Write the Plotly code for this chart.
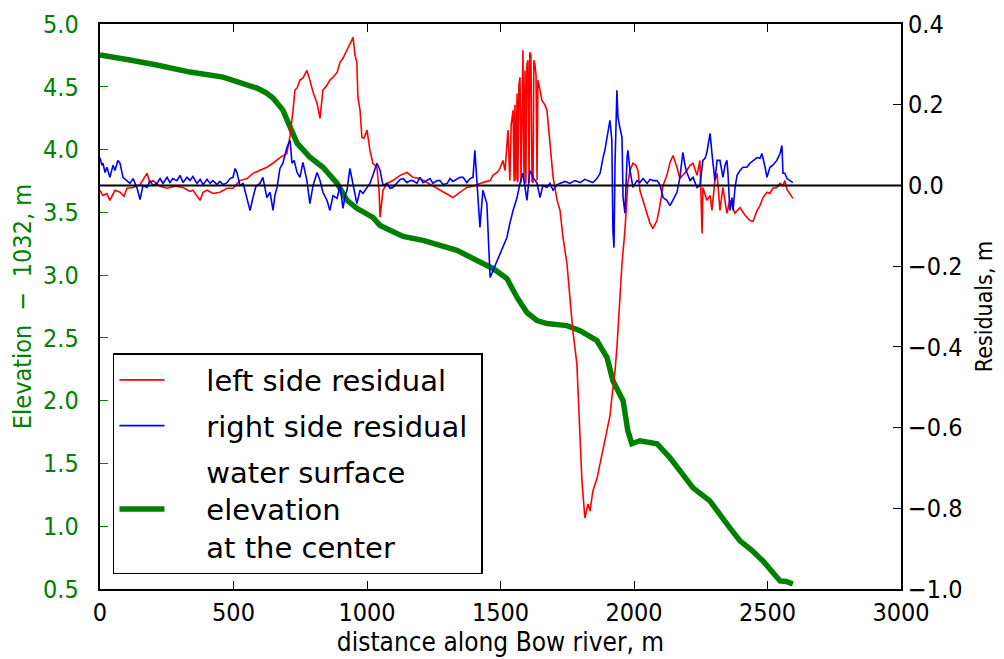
import plotly.graph_objects as go

# ---- water surface elevation at the center (left axis, elevation - 1032 m)
x_elev = [0, 56, 112, 213, 337, 461, 524, 588, 620, 648, 685, 712, 738, 786, 835, 888,
          925, 962, 1022, 1049, 1090, 1135, 1210, 1337, 1449, 1472, 1524, 1562, 1599,
          1637, 1674, 1749, 1798, 1861, 1899, 1921, 1959, 1977, 1992, 2022, 2086, 2135,
          2221, 2284, 2359, 2397, 2440, 2483, 2547, 2570, 2595]
elev = [4.753, 4.735, 4.713, 4.673, 4.617, 4.577, 4.537, 4.489, 4.455, 4.410, 4.314,
        4.178, 4.051, 3.939, 3.859, 3.731, 3.596, 3.532, 3.460, 3.396, 3.350, 3.308,
        3.277, 3.197, 3.077, 3.053, 2.973, 2.822, 2.702, 2.638, 2.614, 2.598, 2.558,
        2.479, 2.343, 2.159, 2.000, 1.760, 1.657, 1.681, 1.657, 1.545, 1.306, 1.202,
        0.987, 0.883, 0.810, 0.723, 0.564, 0.560, 0.540]

# ---- left side residual (right axis)
x_left = [0, 11, 26, 37, 56, 75, 90, 101, 124, 150, 176, 187, 198, 225, 251, 281, 311,
          337, 348, 363, 375, 386, 401, 423, 449, 476, 498, 524, 551, 573, 599, 625, 648,
          674, 700, 712, 723, 730, 738, 749, 760, 775, 786, 798, 813, 824, 835, 850, 861,
          873, 888, 899, 910, 925, 936, 948, 955, 962, 966, 974, 981, 989, 1000, 1011,
          1022, 1037, 1045, 1049, 1060, 1075, 1097, 1124, 1150, 1172, 1198, 1225, 1247,
          1273, 1300, 1322, 1348, 1374, 1397, 1423, 1449, 1461, 1472, 1487, 1498, 1509,
          1517, 1528, 1535, 1540, 1547, 1551, 1554, 1558, 1562, 1565, 1569, 1573, 1577,
          1581, 1584, 1588, 1592, 1595, 1599, 1603, 1607, 1610, 1614, 1618, 1622, 1625,
          1629, 1633, 1637, 1640, 1644, 1648, 1655, 1667, 1674, 1685, 1697,
          1712, 1723, 1734, 1749, 1760, 1771, 1786, 1798, 1805, 1816, 1828, 1835, 1846,
          1861, 1873, 1884, 1899, 1910, 1917, 1929, 1936, 1947, 1955, 1966, 1977, 1985,
          1996, 2007, 2015, 2022, 2034, 2049, 2060, 2071, 2086, 2097, 2109, 2123, 2135,
          2146, 2161, 2172, 2183, 2198, 2210, 2221, 2236, 2247, 2255, 2258, 2273, 2285,
          2292, 2303, 2311, 2322, 2333, 2348, 2359, 2371, 2378, 2397, 2416, 2434, 2446,
          2461, 2472, 2483, 2498, 2509, 2520, 2535, 2547, 2558, 2565, 2573, 2584, 2595]
res_left = [-0.012, -0.025, -0.020, -0.037, -0.012, -0.017, -0.027, -0.007, -0.005,
            0.002, 0.030, 0.007, 0.012, -0.002, -0.007, -0.002, -0.005, -0.015, -0.012,
            -0.027, -0.037, -0.017, -0.012, -0.020, -0.017, -0.007, -0.007, 0.012, 0.017,
            0.030, 0.037, 0.045, 0.055, 0.069, 0.079, 0.124, 0.186, 0.236, 0.241, 0.261,
            0.266, 0.285, 0.261, 0.231, 0.204, 0.166, 0.236, 0.248, 0.261, 0.268, 0.280,
            0.305, 0.315, 0.335, 0.347, 0.367, 0.323, 0.305, 0.218, 0.186, 0.119, 0.117,
            0.137, 0.087, 0.055, 0.045, -0.012, -0.079, -0.012, 0.005, 0.012, 0.025,
            0.032, 0.020, 0.017, 0.007, -0.002, -0.012, -0.020, -0.030, -0.017, -0.005,
            -0.002, 0.005, 0.010, 0.012, 0.025, 0.032, 0.042, 0.062, 0.037, 0.137, 0.012,
            0.150, 0.186, 0.010, 0.200, 0.012, 0.228, 0.008, 0.250, 0.268, 0.007,
            0.300, 0.335, 0.010, 0.285, 0.005, 0.300, 0.310, 0.007, 0.330, 0.323, 0.010,
            0.007, 0.310, 0.300, 0.273, 0.012, 0.261, 0.250, 0.236, 0.211, 0.199, 0.186,
            0.104, 0.020, -0.037, -0.062, -0.129, -0.194, -0.278, -0.360, -0.442, -0.608,
            -0.732, -0.824, -0.789, -0.807, -0.757, -0.727, -0.690, -0.658, -0.608, -0.571,
            -0.526, -0.459, -0.402, -0.285, -0.194, -0.112, 0.005, 0.037, 0.055, 0.050,
            0.037, -0.012, -0.037, -0.074, -0.094, -0.107, -0.087, -0.050, 0.000, 0.025,
            0.057, 0.074, 0.045, 0.017, 0.025, 0.037, 0.050, 0.055, 0.025, 0.062, -0.119,
            -0.005, -0.037, -0.025, -0.062, 0.012, 0.030, -0.062, -0.005, -0.069, -0.037,
            -0.057, -0.069, -0.055, -0.074, -0.087, -0.089, -0.062, -0.050, -0.030, -0.017,
            -0.020, -0.007, -0.005, 0.005, 0.000, 0.012, -0.010, -0.020, -0.032]

# ---- right side residual (right axis)
x_right = [0, 7, 11, 19, 26, 37, 49, 56, 67, 75, 86, 101, 112, 124, 139, 150, 161, 176,
           187, 198, 213, 225, 236, 251, 262, 273, 288, 300, 311, 326, 337, 348, 363, 375,
           386, 401, 412, 423, 438, 449, 461, 476, 487, 498, 506, 513, 524, 536, 547, 562,
           573, 584, 599, 610, 625, 637, 648, 655, 663, 674, 685, 693, 700, 712, 719, 727,
           738, 749, 760, 775, 786, 798, 813, 824, 835, 850, 861, 873, 888, 899, 910, 918,
           925, 936, 948, 962, 974, 985, 1000, 1011, 1022, 1037, 1049, 1060, 1075, 1086,
           1097, 1112, 1124, 1135, 1150, 1161, 1172, 1187, 1198, 1210, 1225, 1236, 1247,
           1262, 1273, 1285, 1300, 1311, 1322, 1337, 1348, 1360, 1374, 1386, 1397, 1404,
           1412, 1416, 1423, 1431, 1434, 1449, 1453, 1461, 1472, 1487, 1498, 1509, 1524,
           1535, 1547, 1562, 1573, 1584, 1599, 1610, 1622, 1637, 1648, 1659, 1674, 1685,
           1697, 1712, 1723, 1742, 1760, 1779, 1798, 1816, 1835, 1846, 1861, 1873, 1884,
           1891, 1899, 1906, 1910, 1917, 1921, 1925, 1929, 1936, 1940, 1947, 1955, 1959,
           1966, 1974, 1977, 1985, 1996, 2011, 2022, 2034, 2049, 2060, 2071, 2086, 2097,
           2109, 2123, 2135, 2146, 2161, 2172, 2183, 2191, 2198, 2210, 2221, 2236, 2247,
           2258, 2266, 2273, 2281, 2285, 2292, 2296, 2303, 2311, 2322, 2333, 2341, 2348,
           2352, 2359, 2367, 2371, 2378, 2386, 2397, 2408, 2423, 2434, 2446, 2461, 2472,
           2479, 2491, 2498, 2509, 2520, 2535, 2547, 2554, 2558, 2565, 2573, 2584, 2595]
res_right = [0.069, 0.050, 0.055, 0.032, 0.045, 0.020, 0.050, 0.037, 0.062, 0.055, 0.020,
             0.012, 0.005, 0.017, -0.007, -0.035, 0.000, -0.005, 0.012, 0.000, 0.005,
             0.017, 0.005, 0.020, 0.007, 0.017, 0.012, 0.025, 0.007, 0.020, 0.012, 0.022,
             0.005, 0.015, 0.002, 0.015, 0.005, 0.012, 0.002, 0.010, 0.002, 0.007, 0.017,
             0.020, 0.042, 0.032, 0.000, 0.005, -0.025, -0.062, -0.030, -0.002, 0.005,
             0.020, -0.030, -0.017, -0.062, -0.025, -0.005, 0.042, 0.055, 0.074, 0.094,
             0.112, 0.055, 0.062, 0.032, 0.020, 0.057, 0.012, -0.045, 0.000, 0.032, 0.012,
             -0.017, -0.037, -0.062, -0.025, -0.032, 0.000, -0.057, -0.025, -0.012, 0.042,
             0.000, -0.045, -0.012, -0.020, -0.005, 0.005, 0.025, 0.055, 0.037, 0.000,
             0.005, -0.007, -0.005, 0.005, 0.015, 0.017, 0.007, 0.012, 0.012, 0.005, 0.020,
             0.007, 0.012, 0.017, 0.005, 0.012, 0.012, 0.002, 0.005, 0.017, 0.010, 0.015,
             0.020, 0.020, 0.007, 0.017, 0.020, 0.087, 0.005, -0.030, -0.104, -0.037,
             -0.012, -0.045, -0.112, -0.228, -0.211, -0.186, -0.169, -0.154, -0.129,
             -0.094, -0.062, -0.030, 0.005, 0.030, -0.037, 0.037, 0.020, 0.005, -0.030,
             0.000, -0.005, 0.005, -0.012, 0.002, 0.005, 0.010, 0.005, 0.012, 0.007, 0.015,
             0.010, 0.007, 0.017, 0.030, 0.069, 0.087, 0.119, 0.149, 0.161, 0.112, -0.112,
             -0.154, 0.055, 0.236, 0.169, 0.144, 0.119, -0.030, -0.069, 0.069, 0.087, 0.037,
             -0.005, 0.012, 0.007, 0.017, 0.005, 0.015, 0.012, 0.012, 0.002, -0.030, -0.037,
             -0.050, -0.037, -0.017, 0.020, 0.082, 0.050, 0.032, 0.012, 0.020, -0.005,
             0.000, 0.062, 0.067, 0.082, 0.117, 0.129, 0.079, 0.055, 0.012, 0.062, 0.062,
             0.020, 0.050, 0.062, 0.030, -0.062, -0.030, -0.062, -0.007, 0.025, 0.037,
             0.045, 0.045, 0.055, 0.062, 0.069, 0.067, 0.079, 0.045, 0.020, 0.045, 0.050,
             0.062, 0.079, 0.099, 0.030, 0.030, 0.017, 0.012, 0.007]

x_ticks = [0, 500, 1000, 1500, 2000, 2500, 3000]

GREEN = "#008000"
FONT = "DejaVu Sans Condensed, DejaVu Sans, sans-serif"
LEGEND_FONT = "DejaVu Sans, sans-serif"
PAD = "\u00a0" * 4

fig = go.Figure()
fig.add_trace(go.Scatter(x=x_elev, y=elev, mode="lines", yaxis="y",
                         name=PAD + "water surface<br>" + PAD + "elevation<br>" + PAD
                         + "at the center",
                         legendgroup="c", line=dict(color=GREEN, width=5.5),
                         legendrank=3))
fig.add_trace(go.Scatter(x=x_left, y=res_left, mode="lines", yaxis="y2",
                         name=PAD + "left side residual", legendgroup="a",
                         line=dict(color="#ff0000", width=1.6), legendrank=1))
fig.add_trace(go.Scatter(x=x_right, y=res_right, mode="lines", yaxis="y2",
                         name=PAD + "right side residual\u00a0", legendgroup="b",
                         line=dict(color="#0000ff", width=1.6), legendrank=2))

fig.add_shape(type="line", xref="paper", x0=0, x1=1, yref="y2", y0=0, y1=0,
              line=dict(color="black", width=2))

fig.update_layout(
    width=1004, height=659,
    margin=dict(l=100, r=103, t=24, b=70, autoexpand=False),
    paper_bgcolor="white", plot_bgcolor="white",
    font=dict(family=FONT, size=25, color="black"),
    xaxis=dict(range=[0, 3000], tickvals=x_ticks, ticks="inside", ticklen=8,
               tickwidth=1.2, tickcolor="black", showline=True, linecolor="black",
               linewidth=2, mirror="ticks", showgrid=False, zeroline=False,
               automargin=False,
               title=dict(text="distance along Bow river, m", standoff=6,
                          font=dict(size=26))),
    yaxis=dict(range=[0.5, 5.0], dtick=0.5, tickformat=".1f", ticks="inside",
               ticklen=8, tickwidth=1.2, tickcolor=GREEN, showline=True,
               linecolor="black", linewidth=2, showgrid=False, zeroline=False,
               automargin=False, ticksuffix="\u00a0\u00a0", tickfont=dict(color=GREEN),
               title=dict(text="Elevation  −  1032, m",
                          font=dict(color=GREEN, size=25), standoff=4)),
    yaxis2=dict(range=[-1.0, 0.4], dtick=0.2, tickformat=".1f", overlaying="y",
                side="right", ticks="inside", ticklen=8, tickwidth=1.2,
                tickcolor="black", showline=True, linecolor="black", linewidth=2,
                showgrid=False, zeroline=False, automargin=False,
                title=dict(text="Residuals, m", font=dict(size=23), standoff=14)),
    legend=dict(x=0.0162, y=0.0265, xanchor="left", yanchor="bottom",
                bgcolor="white", bordercolor="black", borderwidth=1.5,
                font=dict(family=LEGEND_FONT, size=29), traceorder="grouped",
                tracegroupgap=5, itemwidth=45),
    showlegend=True,
)

fig.write_html("out.html")
